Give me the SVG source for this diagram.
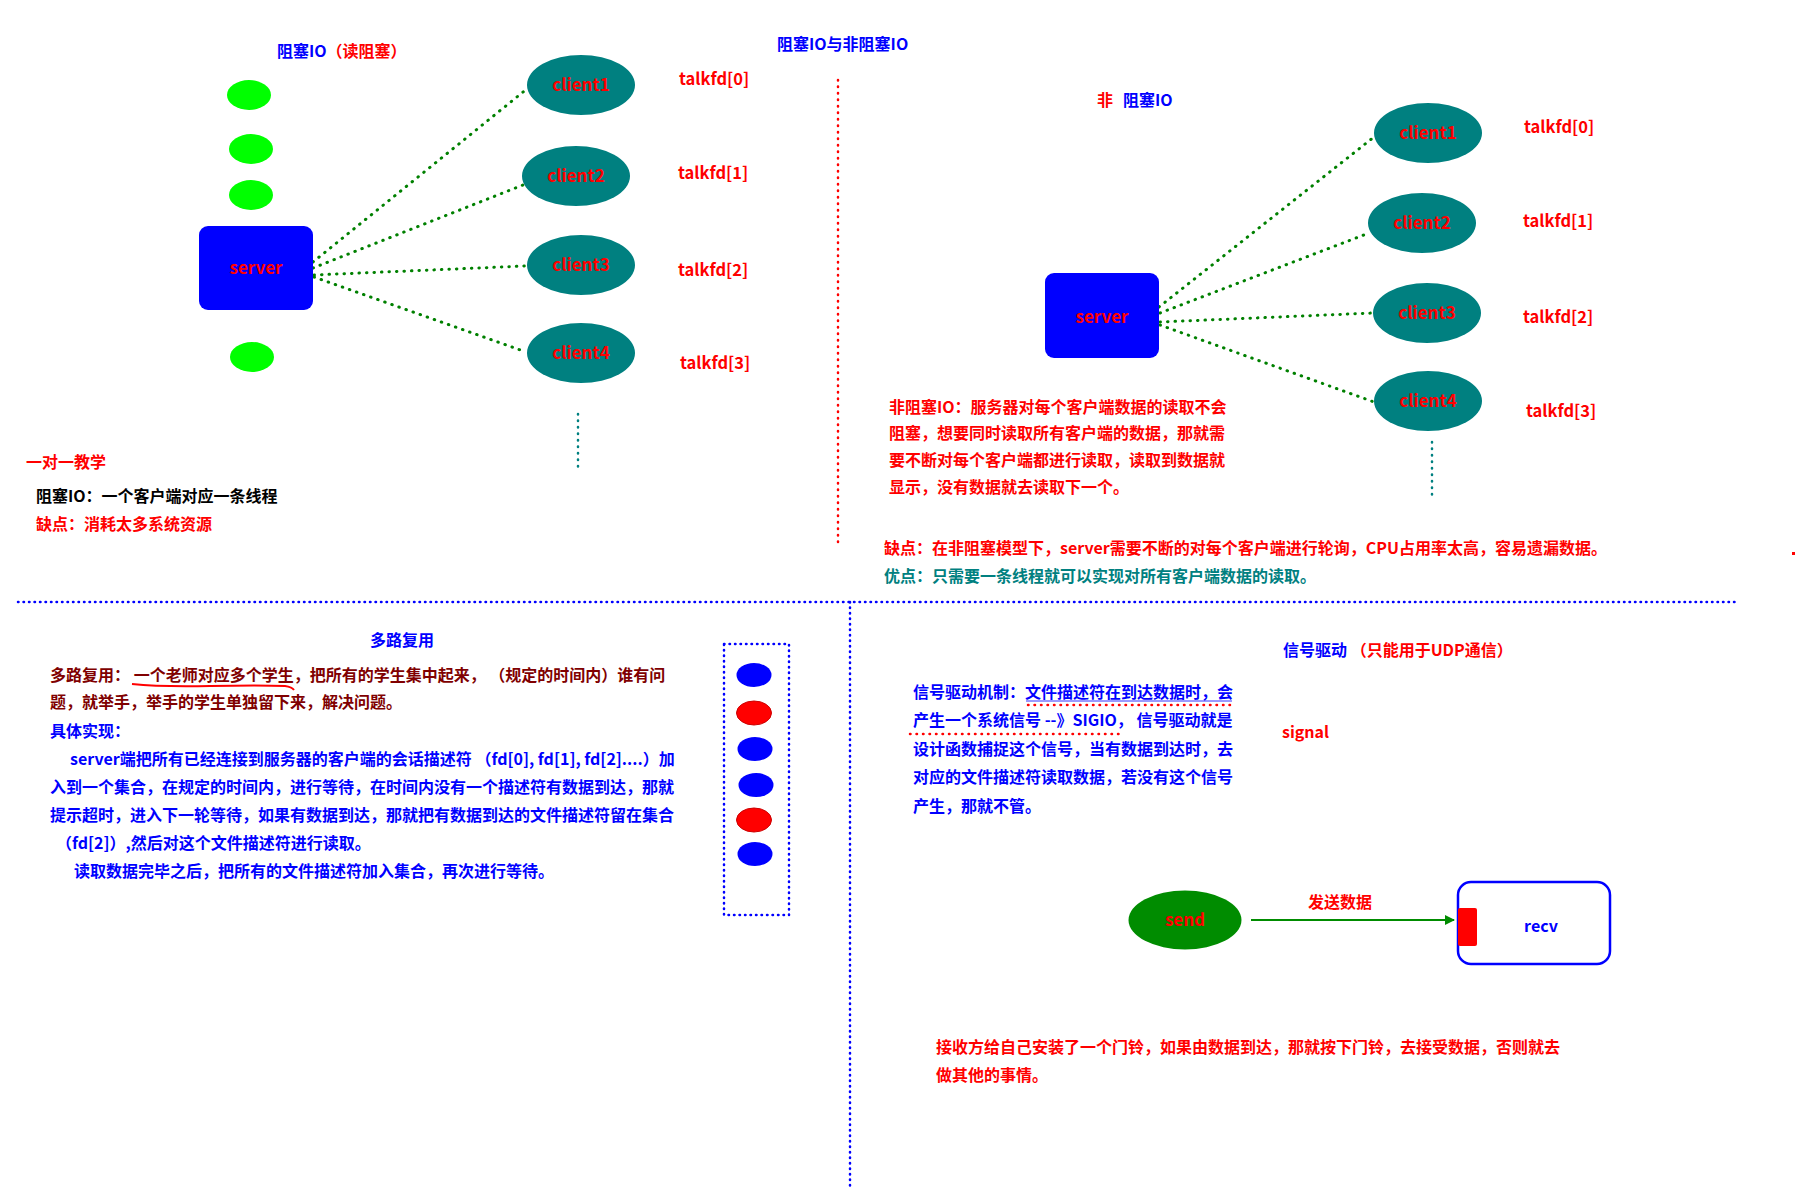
<svg xmlns="http://www.w3.org/2000/svg" width="1800" height="1200" viewBox="0 0 1800 1200">
<defs>
<style>
text{font-family:"Noto Sans CJK SC","Liberation Sans",sans-serif;font-weight:700;font-size:16px}
.r{fill:#ff0000}.b{fill:#0000ff}.k{fill:#000000}.t{fill:#008080}.m{fill:#800000}
.lbl{font-size:17px;fill:#ff0000;text-anchor:middle}
.fd{font-size:16.5px;fill:#ff0000}
.cli{fill:#008080}
.srv{fill:#0000ff}
.gdot{fill:#00ff00}
.conn{stroke:#008000;stroke-width:3;stroke-dasharray:0.5 7;stroke-linecap:round;fill:none}
.tdot{stroke:#008080;stroke-width:2.5;stroke-dasharray:0.5 6;stroke-linecap:round;fill:none}
.rdot{stroke:#ff0000;stroke-width:2.5;stroke-dasharray:0.5 6;stroke-linecap:round;fill:none}
.bdot{stroke:#0000ff;stroke-width:2.5;stroke-dasharray:0.5 5;stroke-linecap:round;fill:none}
</style>
<marker id="arr" viewBox="0 0 10 10" refX="9" refY="5" markerWidth="5" markerHeight="5" orient="auto">
<path d="M0,0 L10,5 L0,10 z" fill="#008c00"/>
</marker>
</defs>
<rect width="1800" height="1200" fill="#ffffff"/>

<text x="777" y="50" class="b">阻塞IO与非阻塞IO</text>

<!-- separators -->
<g id="separators">
<line x1="838" y1="80" x2="838" y2="543" class="rdot"/>
<line x1="18" y1="602" x2="1739" y2="602" class="bdot"/>
<line x1="850" y1="602" x2="850" y2="1190" class="bdot"/>
</g>

<!-- blocking IO -->
<text x="277" y="57"><tspan class="b">阻塞IO</tspan><tspan class="r">（读阻塞）</tspan></text>
<g id="dots-left">
<ellipse cx="249" cy="95" rx="22" ry="15" class="gdot"/>
<ellipse cx="251" cy="149" rx="22" ry="15" class="gdot"/>
<ellipse cx="251" cy="195" rx="22" ry="15" class="gdot"/>
<ellipse cx="252" cy="357" rx="22" ry="15" class="gdot"/>
</g>
<g id="connectors">
<line x1="313" y1="262" x2="528" y2="88" class="conn"/>
<line x1="313" y1="268" x2="523" y2="185" class="conn"/>
<line x1="314" y1="275" x2="525" y2="266" class="conn"/>
<line x1="314" y1="277" x2="526" y2="352" class="conn"/>
<line x1="1159" y1="307" x2="1374" y2="137" class="conn"/>
<line x1="1160" y1="313" x2="1369" y2="233" class="conn"/>
<line x1="1160" y1="322" x2="1373" y2="313" class="conn"/>
<line x1="1160" y1="325" x2="1374" y2="402" class="conn"/>
<line x1="578" y1="414" x2="578" y2="470" class="tdot"/>
<line x1="1432" y1="442" x2="1432" y2="499" class="tdot"/>
<line x1="1251" y1="920" x2="1454" y2="920" stroke="#008c00" stroke-width="2" marker-end="url(#arr)"/>
</g>
<g id="server-left">
<rect x="199" y="226" width="114" height="84" rx="9" class="srv"/>
<text x="256" y="274" class="lbl">server</text>
</g>
<g id="client1-left"><ellipse cx="581" cy="85" rx="54" ry="30" class="cli"/><text x="581" y="91" class="lbl">client1</text></g>
<g id="client2-left"><ellipse cx="576" cy="176" rx="54" ry="30" class="cli"/><text x="576" y="182" class="lbl">client2</text></g>
<g id="client3-left"><ellipse cx="581" cy="265" rx="54" ry="30" class="cli"/><text x="581" y="271" class="lbl">client3</text></g>
<g id="client4-left"><ellipse cx="581" cy="353" rx="54" ry="30" class="cli"/><text x="581" y="359" class="lbl">client4</text></g>
<text x="679" y="85" class="fd">talkfd[0]</text>
<text x="678" y="179" class="fd">talkfd[1]</text>
<text x="678" y="276" class="fd">talkfd[2]</text>
<text x="680" y="369" class="fd">talkfd[3]</text>

<text x="26" y="468" class="r">一对一教学</text>
<text x="36" y="502" class="k">阻塞IO：一个客户端对应一条线程</text>
<text x="36" y="530" class="r">缺点：消耗太多系统资源</text>

<!-- non-blocking IO -->
<text x="1097" y="106"><tspan class="r">非</tspan><tspan class="b" x="1123">阻塞IO</tspan></text>
<g id="server-right">
<rect x="1045" y="273" width="114" height="85" rx="9" class="srv"/>
<text x="1102" y="323" class="lbl">server</text>
</g>
<g id="client1-right"><ellipse cx="1428" cy="133" rx="54" ry="30" class="cli"/><text x="1428" y="139" class="lbl">client1</text></g>
<g id="client2-right"><ellipse cx="1422" cy="223" rx="54" ry="30" class="cli"/><text x="1422" y="229" class="lbl">client2</text></g>
<g id="client3-right"><ellipse cx="1427" cy="313" rx="54" ry="30" class="cli"/><text x="1427" y="319" class="lbl">client3</text></g>
<g id="client4-right"><ellipse cx="1428" cy="401" rx="54" ry="30" class="cli"/><text x="1428" y="407" class="lbl">client4</text></g>
<text x="1524" y="133" class="fd">talkfd[0]</text>
<text x="1523" y="227" class="fd">talkfd[1]</text>
<text x="1523" y="323" class="fd">talkfd[2]</text>
<text x="1526" y="417" class="fd">talkfd[3]</text>

<g class="r">
<text x="889" y="413">非阻塞IO：服务器对每个客户端数据的读取不会</text>
<text x="889" y="439">阻塞，想要同时读取所有客户端的数据，那就需</text>
<text x="889" y="466">要不断对每个客户端都进行读取，读取到数据就</text>
<text x="889" y="493">显示，没有数据就去读取下一个。</text>
</g>
<text x="884" y="554" class="r">缺点：在非阻塞模型下，server需要不断的对每个客户端进行轮询，CPU占用率太高，容易遗漏数据。</text>
<text x="884" y="582" class="t">优点：只需要一条线程就可以实现对所有客户端数据的读取。</text>
<rect x="1792" y="552" width="3" height="3" fill="#ff0000"/>

<!-- multiplexing -->
<text x="370" y="646" class="b">多路复用</text>
<text x="50" y="681" class="m">多路复用： 一个老师对应多个学生，把所有的学生集中起来， （规定的时间内）谁有问</text>
<path d="M132,684 Q160,687 210,686 T285,686 Q292,687 294,690" stroke="#ff0000" stroke-width="2" fill="none"/>
<text x="50" y="708" class="m">题，就举手，举手的学生单独留下来，解决问题。</text>
<g class="b">
<text x="50" y="737">具体实现：</text>
<text x="70" y="765">server端把所有已经连接到服务器的客户端的会话描述符 （fd[0], fd[1], fd[2]....）加</text>
<text x="50" y="793">入到一个集合，在规定的时间内，进行等待，在时间内没有一个描述符有数据到达，那就</text>
<text x="50" y="821">提示超时，进入下一轮等待，如果有数据到达，那就把有数据到达的文件描述符留在集合</text>
<text x="56" y="849">（fd[2]）,然后对这个文件描述符进行读取。</text>
<text x="74" y="877">读取数据完毕之后，把所有的文件描述符加入集合，再次进行等待。</text>
</g>
<g id="fdset">
<rect x="724" y="644" width="65" height="271" class="bdot"/>
<ellipse cx="754" cy="675" rx="17.5" ry="12" fill="#0000ff"/>
<ellipse cx="754" cy="713" rx="17.5" ry="12" fill="#ff0000" stroke="#cc0000" stroke-width="1"/>
<ellipse cx="755" cy="749" rx="17.5" ry="12" fill="#0000ff"/>
<ellipse cx="756" cy="785" rx="17.5" ry="12" fill="#0000ff"/>
<ellipse cx="754" cy="820" rx="17.5" ry="12" fill="#ff0000" stroke="#cc0000" stroke-width="1"/>
<ellipse cx="755" cy="854" rx="17.5" ry="12" fill="#0000ff"/>
</g>

<!-- signal driven -->
<text x="1283" y="656"><tspan class="b">信号驱动 </tspan><tspan class="r">（只能用于UDP通信）</tspan></text>
<g class="b">
<text x="913" y="698">信号驱动机制：文件描述符在到达数据时，会</text>
<text x="913" y="726">产生一个系统信号 --》SIGIO，  信号驱动就是</text>
<text x="913" y="755">设计函数捕捉这个信号，当有数据到达时，去</text>
<text x="913" y="783">对应的文件描述符读取数据，若没有这个信号</text>
<text x="913" y="812">产生，那就不管。</text>
</g>
<line x1="1026" y1="701" x2="1232" y2="701" stroke="#0000ff" stroke-width="0.8"/>
<line x1="1028" y1="705" x2="1235" y2="705" class="rdot"/>
<line x1="910" y1="734" x2="1120" y2="734" class="rdot"/>
<text x="1282" y="738" class="r">signal</text>

<g id="send">
<ellipse cx="1185" cy="920" rx="56.5" ry="29.5" fill="#008c00"/>
<text x="1185" y="926" class="lbl">send</text>
</g>
<text x="1308" y="908" class="r">发送数据</text>
<g id="recv">
<rect x="1458" y="882" width="152" height="82" rx="13" fill="#ffffff" stroke="#0000ff" stroke-width="2.5"/>
<rect x="1458" y="908" width="19" height="38" rx="2" fill="#ff0000"/>
<text x="1541" y="932" class="b" text-anchor="middle">recv</text>
</g>

<g class="r">
<text x="936" y="1053">接收方给自己安装了一个门铃，如果由数据到达，那就按下门铃，去接受数据，否则就去</text>
<text x="936" y="1081">做其他的事情。</text>
</g>
</svg>
